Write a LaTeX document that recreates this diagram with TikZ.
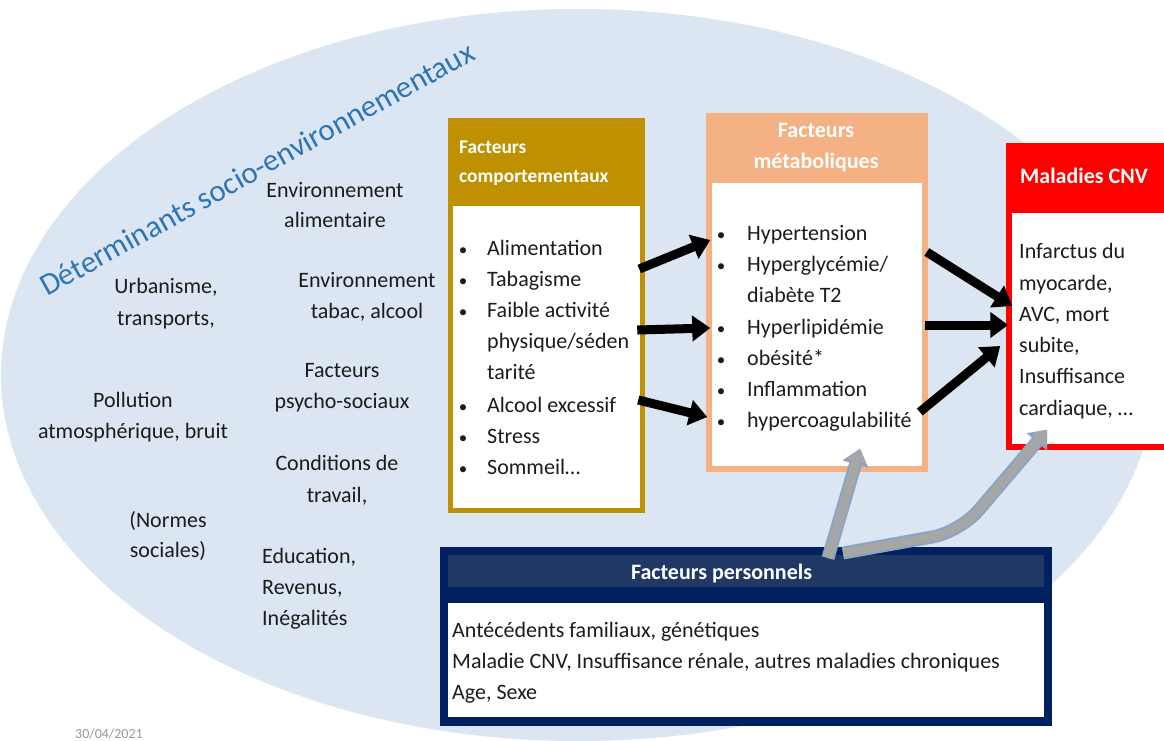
\documentclass[tikz,border=0pt]{standalone}
\usepackage{fontspec}
\setmainfont{Carlito}
\usetikzlibrary{arrows.meta,calc}
\definecolor{ellblue}{HTML}{DCE6F2}
\definecolor{goldc}{HTML}{BF9000}
\definecolor{salmon}{HTML}{F4B183}
\definecolor{redc}{HTML}{FF0000}
\definecolor{navy}{HTML}{002060}
\definecolor{navyband}{HTML}{1F3864}
\definecolor{titleblue}{HTML}{2E75B6}
\definecolor{txt}{HTML}{1C1C1C}
\definecolor{grayarrow}{HTML}{A6A6A6}
\definecolor{grayedge}{HTML}{8AA4C6}
\tikzset{
  body/.style={anchor=base west, inner sep=0pt, text=txt, font=\fontsize{22}{26}\selectfont},
  bodyc/.style={anchor=base, inner sep=0pt, text=txt, font=\fontsize{22}{26}\selectfont},
  bul/.style={anchor=base, inner sep=0pt, text=txt, font=\fontsize{17}{20}\selectfont},
  headw/.style={anchor=base west, inner sep=0pt, text=white, font=\bfseries\fontsize{22}{26}\selectfont},
  headc/.style={anchor=base, inner sep=0pt, text=white, font=\bfseries\fontsize{22}{26}\selectfont},
  boxstyle/.style={fill=white, line width=5.5pt, inner sep=0pt},
  bigarrow/.style={line width=9pt, black, -{Triangle[length=18pt,width=25pt]}},
  grayout/.style={line width=13pt, grayedge, rounded corners=28pt, -{Triangle[length=16pt,width=26pt]}},
  grayin/.style={line width=9pt, grayarrow, rounded corners=28pt, -{Triangle[length=13pt,width=20pt]}},
}
\begin{document}
\begin{tikzpicture}[x=1pt,y=-1pt]
\useasboundingbox (0,0) rectangle (1164,740);
\clip (0,0) rectangle (1164,740);
\fill[white] (0,0) rectangle (1164,740);
% background ellipse
\fill[ellblue] (578,375) ellipse [x radius=577pt, y radius=366pt];
% title
\node[anchor=base west, inner sep=0pt, rotate=29, text=titleblue,
      font=\fontsize{31}{36}\selectfont] (title) at (47,297)
      {Déterminants socio-environnementaux};
% left determinants
\node[bodyc] (ea1) at (335,197) {Environnement};
\node[bodyc] (ea2) at (335,227) {alimentaire};
\node[bodyc] (et1) at (367,287) {Environnement};
\node[bodyc] (et2) at (367,318) {tabac, alcool};
\node[bodyc] (ur1) at (166,293) {Urbanisme,};
\node[bodyc] (ur2) at (166,325) {transports,};
\node[bodyc] (ps1) at (342,377) {Facteurs};
\node[bodyc] (ps2) at (342,408) {psycho-sociaux};
\node[bodyc] (po1) at (133,407) {Pollution};
\node[bodyc] (po2) at (133,438) {atmosphérique, bruit};
\node[bodyc] (co1) at (337,470) {Conditions de};
\node[bodyc] (co2) at (337,502) {travail,};
\node[bodyc] (no1) at (168,527) {(Normes};
\node[bodyc] (no2) at (168,557) {sociales)};
\node[body] (ed1) at (262,563) {Education,};
\node[body] (ed2) at (262,594) {Revenus,};
\node[body] (ed3) at (262,625) {Inégalités};
% comportementaux box
\node[boxstyle, draw=goldc, minimum width=192pt, minimum height=390pt] (comp) at (546.5,315.5) {};
\fill[goldc] (448,118) rectangle (645,206);
\node[anchor=base west, inner sep=0pt, text=white, font=\bfseries\fontsize{19.4}{23}\selectfont] (ct1) at (459,153) {Facteurs};
\node[anchor=base west, inner sep=0pt, text=white, font=\bfseries\fontsize{19.4}{23}\selectfont] (ct2) at (459,182) {comportementaux};
\node[bul] (cb1) at (463,255) {\textbullet};
\node[body] (ci1) at (487,255) {Alimentation};
\node[bul] (cb2) at (463,286) {\textbullet};
\node[body] (ci2) at (487,286) {Tabagisme};
\node[bul] (cb3) at (463,317) {\textbullet};
\node[body] (ci3) at (487,317) {Faible activité};
\node[body] (ci3b) at (487,348) {physique/séden};
\node[body] (ci3c) at (487,379) {tarité};
\node[bul] (cb4) at (463,412) {\textbullet};
\node[body] (ci4) at (487,412) {Alcool excessif};
\node[bul] (cb5) at (463,443) {\textbullet};
\node[body] (ci5) at (487,443) {Stress};
\node[bul] (cb6) at (463,474) {\textbullet};
\node[body] (ci6) at (487,474) {Sommeil…};
% metaboliques box
\node[boxstyle, draw=salmon, minimum width=216pt, minimum height=353pt] (meta) at (817,292.5) {};
\fill[salmon] (706,113) rectangle (928,183);
\node[headc] (mt1) at (816,137) {Facteurs};
\node[headc] (mt2) at (816,168) {métaboliques};
\node[bul] (mb1) at (721,240) {\textbullet};
\node[body] (mi1) at (747,240) {Hypertension};
\node[bul] (mb2) at (721,271) {\textbullet};
\node[body] (mi2) at (747,271) {Hyperglycémie/};
\node[body] (mi2b) at (747,302) {diabète T2};
\node[bul] (mb3) at (721,334) {\textbullet};
\node[body] (mi3) at (747,334) {Hyperlipidémie};
\node[bul] (mb4) at (721,365) {\textbullet};
\node[body] (mi4) at (747,365) {obésité*};
\node[bul] (mb5) at (721,396) {\textbullet};
\node[body] (mi5) at (747,396) {Inflammation};
\node[bul] (mb6) at (721,427) {\textbullet};
\node[body] (mi6) at (747,427) {hypercoagulabilité};
% maladies box
\node[boxstyle, draw=redc, minimum width=172pt, minimum height=301pt] (mal) at (1095,296.5) {};
\fill[redc] (1006,143) rectangle (1185,213);
\node[headw] (mlt) at (1020,183) {Maladies CNV};
\node[body] (ml1) at (1019,258) {Infarctus du};
\node[body] (ml2) at (1019,290) {myocarde,};
\node[body] (ml3) at (1019,321) {AVC, mort};
\node[body] (ml4) at (1019,352) {subite,};
\node[body] (ml5) at (1019,383) {Insuffisance};
\node[body] (ml6) at (1019,415) {cardiaque, …};
% personnels box
\node[fill=navy, minimum width=612pt, minimum height=179pt, inner sep=0pt, outer sep=0pt] (pers) at (746,636.5) {};
\fill[navyband] (448,555) rectangle (1044,587);
\fill[white] (448,603) rectangle (1044,717);
\node[headc] (pt) at (721.5,579) {Facteurs personnels};
\node[body] (pi1) at (452,637) {Antécédents familiaux, génétiques};
\node[body] (pi2) at (452,668) {Maladie CNV, Insuffisance rénale, autres maladies chroniques};
\node[body] (pi3) at (452,699) {Age, Sexe};
% black arrows
\draw[bigarrow] ($(comp.east)+(-6,-46.5)$) -- ($(meta.west)+(4,-52.5)$);
\draw[bigarrow] ($(comp.east)+(-8,14.5)$) -- ($(meta.west)+(4,35.5)$);
\draw[bigarrow] ($(comp.east)+(-7,84.5)$) -- ($(meta.west)+(1,124.5)$);
\draw[bigarrow] ($(meta.east)+(-1,-40.5)$) -- ($(mal.west)+(6,9.5)$);
\draw[bigarrow] ($(meta.east)+(-3,32.5)$) -- ($(mal.west)+(2,28.5)$);
\draw[bigarrow] ($(meta.east)+(-8,119.5)$) -- ($(mal.west)+(-6,49.5)$);
% gray arrows
\coordinate (ga1s) at ($(pers.north)+(82,11)$);
\coordinate (ga1e) at ($(meta.south)+(43,-23)$);
\coordinate (ga2s) at ($(pers.north)+(97,6)$);
\coordinate (ga2b) at (960,532);
\coordinate (ga2e) at ($(mal.south west)+(41,-20)$);
\draw[grayout] (ga1s) -- (ga1e);
\draw[grayin] (ga1s) -- (ga1e);
\draw[grayout] (ga2s) -- (ga2b) -- (ga2e);
\draw[grayin] (ga2s) -- (ga2b) -- (ga2e);
% date
\node[anchor=base west, inner sep=0pt, text=black!40, font=\fontsize{14}{16}\selectfont] (date) at (75,738) {30/04/2021};
\end{tikzpicture}
\end{document}
